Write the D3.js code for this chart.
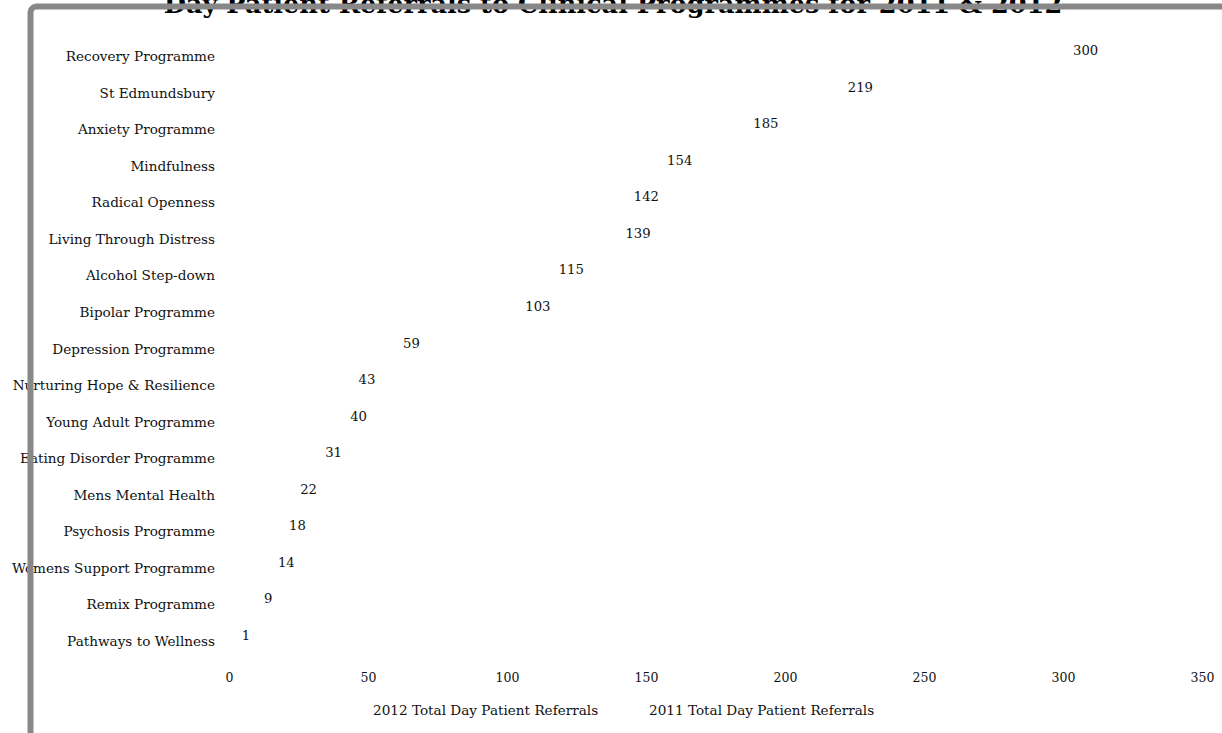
<!DOCTYPE html>
<html><head><meta charset="utf-8">
<script src="https://cdn.jsdelivr.net/npm/d3@7"></script>
<style>
html,body{margin:0;padding:0;background:#fff;overflow:hidden;}
text{font-family:Georgia,"DejaVu Serif",serif;fill:#111;}
</style></head>
<body><svg id="c" width="1222" height="733"></svg>
<script>
const title = "Day Patient Referrals to Clinical Programmes for 2011 & 2012";
const categories = ["Recovery Programme","St Edmundsbury","Anxiety Programme","Mindfulness","Radical Openness","Living Through Distress","Alcohol Step-down","Bipolar Programme","Depression Programme","Nurturing Hope & Resilience","Young Adult Programme","Eating Disorder Programme","Mens Mental Health","Psychosis Programme","Womens Support Programme","Remix Programme","Pathways to Wellness"];
const values = [300,219,185,154,142,139,115,103,59,43,40,31,22,18,14,9,1];
const xTicks = [0,50,100,150,200,250,300,350];
const legendLabels = ["2012 Total Day Patient Referrals","2011 Total Day Patient Referrals"];

const svg = d3.select("#c");
const x = d3.scaleLinear().domain([0,350]).range([229,1202]);
const y = d3.scaleBand().domain(categories).range([37.7,659.3]);

// title (drawn beneath the frame)
svg.append("text").attr("x",613).attr("y",13).attr("text-anchor","middle")
  .style("font-size","25.6px").style("font-weight","bold").style("fill","#000").text(title);

// invisible bars
svg.append("g").selectAll("rect").data(values).join("rect")
  .attr("x",x(0)).attr("y",(d,i)=>y(categories[i])+y.bandwidth()*0.2)
  .attr("width",d=>x(d)-x(0)).attr("height",y.bandwidth()*0.3)
  .attr("fill","#fff").attr("fill-opacity",0);

// category labels
svg.append("g").selectAll("text").data(categories).join("text")
  .attr("x",215).attr("y",d=>y(d)+y.bandwidth()/2+5)
  .attr("text-anchor","end").style("font-size","13.6px").text(d=>d);

// value labels
svg.append("g").selectAll("text").data(values).join("text")
  .attr("x",d=>x(d)+10).attr("y",(d,i)=>y(categories[i])+y.bandwidth()/2-1)
  .style("font-size","13.2px").text(d=>d);

// x axis tick labels
const ax = svg.append("g").attr("transform","translate(0,682)")
  .call(d3.axisBottom(x).tickValues(xTicks).tickSize(0).tickPadding(0));
ax.select(".domain").remove();
ax.selectAll("text").attr("dy",0).style("font-size","12.5px").style("font-family",'Georgia,"DejaVu Serif",serif').attr("fill","#111");

// legend
const lg = svg.append("g");
const lx = [373,649];
legendLabels.forEach((t,i)=>{
  lg.append("text").attr("x",lx[i]).attr("y",715).style("font-size","13.6px").text(t);
});

// frame on top
svg.append("rect").attr("x",30.5).attr("y",6.5).attr("width",1300).attr("height",800)
  .attr("rx",6).attr("fill","none").attr("stroke","#888").attr("stroke-width",6);
</script></body></html>
